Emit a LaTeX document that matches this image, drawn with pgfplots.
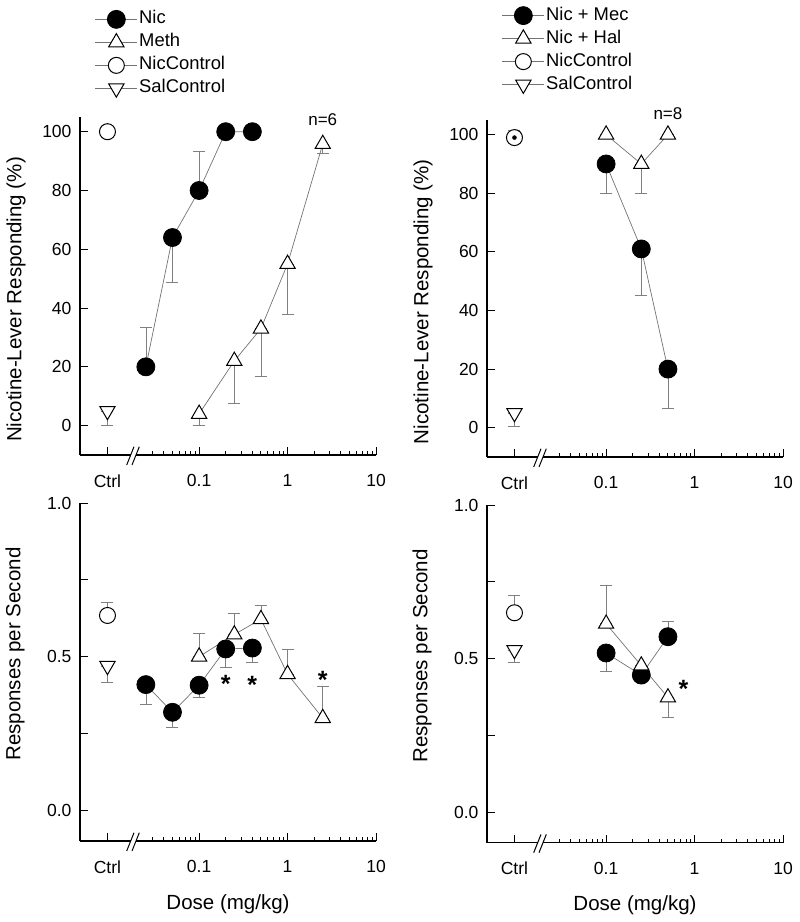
\documentclass[border=0pt]{standalone}
\usepackage{fontspec}
\setmainfont{Liberation Sans}
\usepackage{pgfplots}
\pgfplotsset{compat=1.18}
\usepackage{pgfplotstable}

\definecolor{ln}{gray}{0.45}
\definecolor{ebc}{gray}{0.5}

% ---------- data ----------
\pgfplotstableread{
x y ep em
0.025 20 13.3 0
0.05 64 0 15.1
0.1 80 13.2 0
0.2 100 0 0
0.4 100 0 0
}\tlnic
\pgfplotstableread{
x y ep em
0.1 4 0 4
0.25 22 0 14.5
0.5 33 0 16.4
1 55 0 17.2
2.5 95.8 0 3.3
}\tlmeth
\pgfplotstableread{
x y ep em
0.0092 100 0 0
}\tlnc
\pgfplotstableread{
x y ep em
0.0092 5 0 5
}\tlsc

\pgfplotstableread{
x y ep em
0.1 90 0 10
0.25 61 0 16
0.5 20 0 13.4
}\trmec
\pgfplotstableread{
x y ep em
0.1 100 0 0
0.25 90 0 10
0.5 100 0 0
}\trhal
\pgfplotstableread{
x y ep em
0.0092 99 2.6 0
}\trnc
\pgfplotstableread{
x y ep em
0.0092 5 0 4.7
}\trsc

\pgfplotstableread{
x y ep em
0.025 0.409 0 0.063
0.05 0.319 0 0.048
0.1 0.407 0 0.039
0.2 0.525 0 0.059
0.4 0.528 0 0.045
}\blnic
\pgfplotstableread{
x y ep em
0.1 0.500 0.077 0
0.25 0.572 0.070 0
0.5 0.622 0.044 0
1 0.443 0.080 0
2.5 0.300 0.103 0
}\blmeth
\pgfplotstableread{
x y ep em
0.0092 0.634 0.044 0
}\blnc
\pgfplotstableread{
x y ep em
0.0092 0.470 0 0.054
}\blsc

\pgfplotstableread{
x y ep em
0.1 0.518 0 0.059
0.25 0.446 0 0
0.5 0.571 0.049 0
}\brmec
\pgfplotstableread{
x y ep em
0.1 0.613 0.124 0
0.25 0.477 0 0
0.5 0.373 0 0.066
}\brhal
\pgfplotstableread{
x y ep em
0.0092 0.649 0.058 0
}\brnc
\pgfplotstableread{
x y ep em
0.0092 0.528 0 0.042
}\brsc

\pgfplotsset{
 every axis/.append style={
   scale only axis, width=296pt,
   xmin=0.0045, xmax=10,
   axis lines=left, axis line style={-, line width=1.1pt, black},
   tick align=inside, major tick length=8pt, minor tick length=4pt,
   every tick/.style={black, line width=0.9pt},
   xtick={0.0092,0.1,1,10}, xticklabels={Ctrl,0.1,1,10},
   minor xtick={0.03,0.04,0.05,0.06,0.07,0.08,0.09,0.2,0.3,0.4,0.5,0.6,0.7,0.8,0.9,2,3,4,5,6,7,8,9},
   clip=false,
   font=\fontsize{17.5}{21}\selectfont,
   xticklabel style={yshift=-16pt},
   yticklabel style={xshift=-5pt},
   legend style={draw=none, fill=none, font=\fontsize{18.4}{22}\selectfont,
     anchor=north west, row sep=1pt, inner sep=0pt,
     nodes={inner sep=1.5pt, text height=14pt, text depth=5pt, font=\fontsize{18.4}{22}\selectfont}},
   legend cell align=left,
 },
 dl/.style={draw=ln, line width=0.7pt},
 filled/.style={dl, mark=*, mark size=9pt, mark options={draw=black, fill=black, line width=0.8pt, solid}},
 tri/.style={dl, mark=triangle*, mark size=8.8pt, mark options={draw=black, fill=white, line width=1pt, solid}},
 opc/.style={dl, mark=*, mark size=8pt, mark options={draw=black, fill=white, line width=1pt, solid}},
 itri/.style={dl, mark=triangle*, mark size=8.8pt, mark options={draw=black, fill=white, line width=1pt, solid, rotate=180}},
 myeb/.style={forget plot, only marks, mark=none,
   error bars/y dir=both, error bars/y explicit,
   error bars/error bar style={draw=ebc, line width=0.7pt},
   error bars/error mark options={rotate=90, mark size=6pt, draw=ebc, line width=0.7pt}},
}
\pgfplotsset{legend image code/.code={\draw[mark repeat=2,mark phase=2,#1] plot coordinates {(0pt,0pt) (21pt,0pt) (42pt,0pt)};}}
\newcommand{\brk}[1]{%
  \fill[white] ([xshift=50.7pt,yshift=-2pt]#1.south west) rectangle ([xshift=56pt,yshift=2pt]#1.south west);
  \draw[line width=1pt] ([xshift=46.7pt,yshift=-10pt]#1.south west) -- ([xshift=54pt,yshift=8.3pt]#1.south west);
  \draw[line width=1pt] ([xshift=52pt,yshift=-10pt]#1.south west) -- ([xshift=59.3pt,yshift=8.3pt]#1.south west);
}

\begin{document}
\begin{tikzpicture}
\useasboundingbox (0,0) rectangle (800pt,-922pt);

% ---------------- top left ----------------
\begin{axis}[xmode=log, name=tl, at={(80pt,-455pt)}, anchor=south west, height=338pt,
  ymin=-10, ymax=105, ytick={0,20,40,60,80,100},
  /pgf/number format/assume math mode=true,
  ylabel={Nicotine-Lever Responding (\%)},
  every axis y label/.style={at={(axis description cs:-0.2162,0.46)}, rotate=90, anchor=center, font=\fontsize{20.5}{24}\selectfont},
  legend style={at={(axis description cs:0.05,1.322)}}]
\addplot[myeb] table[x=x,y=y,y error plus=ep,y error minus=em]{\tlnic};
\addplot[myeb] table[x=x,y=y,y error plus=ep,y error minus=em]{\tlmeth};
\addplot[myeb] table[x=x,y=y,y error plus=ep,y error minus=em]{\tlsc};
\addplot[filled] table[x=x,y=y]{\tlnic}; \addlegendentry{Nic}
\addplot[tri] table[x=x,y=y]{\tlmeth}; \addlegendentry{Meth}
\addplot[opc] table[x=x,y=y]{\tlnc}; \addlegendentry{NicControl}
\addplot[itri] table[x=x,y=y]{\tlsc}; \addlegendentry{SalControl}
\node[font=\fontsize{17}{20}\selectfont] at (axis cs:2.5,104.2) {n=6};
\end{axis}
\brk{tl}

% ---------------- top right ----------------
\begin{axis}[xmode=log, name=tr, at={(487pt,-457pt)}, anchor=south west, height=337pt,
  ymin=-10, ymax=105, ytick={0,20,40,60,80,100},
  /pgf/number format/assume math mode=true,
  ylabel={Nicotine-Lever Responding (\%)},
  every axis y label/.style={at={(axis description cs:-0.2162,0.461)}, rotate=90, anchor=center, font=\fontsize{20.5}{24}\selectfont},
  legend style={at={(axis description cs:0.05,1.343)}}]
\addplot[myeb] table[x=x,y=y,y error plus=ep,y error minus=em]{\trmec};
\addplot[myeb] table[x=x,y=y,y error plus=ep,y error minus=em]{\trhal};
\addplot[myeb] table[x=x,y=y,y error plus=ep,y error minus=em]{\trsc};
\addplot[filled] table[x=x,y=y]{\trmec}; \addlegendentry{Nic + Mec}
\addplot[tri] table[x=x,y=y]{\trhal}; \addlegendentry{Nic + Hal}
\addplot[opc] table[x=x,y=y]{\trnc}; \addlegendentry{NicControl}
\addplot[itri] table[x=x,y=y]{\trsc}; \addlegendentry{SalControl}
\addplot[myeb, error bars/y dir=plus] table[x=x,y=y,y error plus=ep,y error minus=em]{\trnc};
\node[font=\fontsize{17}{20}\selectfont] at (axis cs:0.5,107) {n=8};
\end{axis}
\brk{tr}

% ---------------- bottom left ----------------
\begin{axis}[xmode=log, name=bl, at={(80pt,-841pt)}, anchor=south west, height=338pt,
  ymin=-0.1, ymax=1, ytick={0,0.25,0.5,0.75,1}, yticklabels={0.0,,0.5,,1.0},
  /pgf/number format/assume math mode=true,
  xlabel={Dose (mg/kg)}, ylabel={Responses per Second},
  every axis x label/.style={at={(axis description cs:0.5,-0.1864)}, anchor=center, font=\fontsize{20.5}{24}\selectfont},
  every axis y label/.style={at={(axis description cs:-0.2196,0.553)}, rotate=90, anchor=center, font=\fontsize{20.5}{24}\selectfont}]
\addplot[myeb] table[x=x,y=y,y error plus=ep,y error minus=em]{\blnic};
\addplot[myeb] table[x=x,y=y,y error plus=ep,y error minus=em]{\blmeth};
\addplot[myeb] table[x=x,y=y,y error plus=ep,y error minus=em]{\blnc};
\addplot[myeb] table[x=x,y=y,y error plus=ep,y error minus=em]{\blsc};
\addplot[filled] table[x=x,y=y]{\blnic};
\addplot[tri] table[x=x,y=y]{\blmeth};
\addplot[opc] table[x=x,y=y]{\blnc};
\addplot[itri] table[x=x,y=y]{\blsc};
\node[font=\fontsize{25}{28}\selectfont\bfseries, yshift=-5pt] at (axis cs:0.2,0.428) {*};
\node[font=\fontsize{25}{28}\selectfont\bfseries, yshift=-5pt] at (axis cs:0.4,0.425) {*};
\node[font=\fontsize{25}{28}\selectfont\bfseries, yshift=-5pt] at (axis cs:2.5,0.441) {*};
\end{axis}
\brk{bl}

% ---------------- bottom right ----------------
\begin{axis}[xmode=log, name=br, at={(487pt,-842.7pt)}, anchor=south west, height=337.7pt,
  ymin=-0.1, ymax=1, ytick={0,0.25,0.5,0.75,1}, yticklabels={0.0,,0.5,,1.0},
  /pgf/number format/assume math mode=true,
  xlabel={Dose (mg/kg)}, ylabel={Responses per Second},
  every axis x label/.style={at={(axis description cs:0.5,-0.1864)}, anchor=center, font=\fontsize{20.5}{24}\selectfont},
  every axis y label/.style={at={(axis description cs:-0.2196,0.553)}, rotate=90, anchor=center, font=\fontsize{20.5}{24}\selectfont}]
\addplot[myeb] table[x=x,y=y,y error plus=ep,y error minus=em]{\brmec};
\addplot[myeb] table[x=x,y=y,y error plus=ep,y error minus=em]{\brhal};
\addplot[myeb] table[x=x,y=y,y error plus=ep,y error minus=em]{\brnc};
\addplot[myeb] table[x=x,y=y,y error plus=ep,y error minus=em]{\brsc};
\addplot[filled] table[x=x,y=y]{\brmec};
\addplot[tri] table[x=x,y=y]{\brhal};
\addplot[opc] table[x=x,y=y]{\brnc};
\addplot[itri] table[x=x,y=y]{\brsc};
\node[font=\fontsize{25}{28}\selectfont\bfseries, yshift=-5pt] at (axis cs:0.75,0.416) {*};
\end{axis}
\brk{br}
\end{tikzpicture}
\end{document}
